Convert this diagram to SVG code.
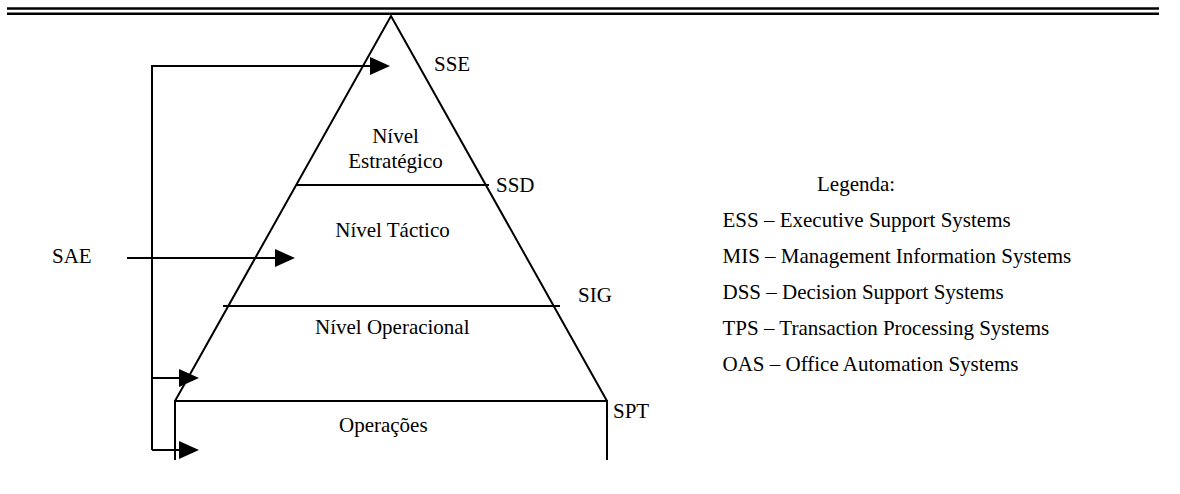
<svg xmlns="http://www.w3.org/2000/svg" width="1180" height="494" viewBox="0 0 1180 494">
  <style>
    .ln { fill: none; stroke: #000; stroke-width: 2; }
    .rule { fill: none; stroke: #000; stroke-width: 2.6; }
    .t { font-family: "Liberation Serif", "Times New Roman", serif; font-size: 21px; fill: #000; }
    .c { text-anchor: middle; }
  </style>
  <defs>
    <marker id="head" markerUnits="userSpaceOnUse" markerWidth="20" markerHeight="18" refX="10" refY="9" orient="auto">
      <path d="M0,0 L20,9 L0,18 z" fill="#000"/>
    </marker>
  </defs>

  <!-- header rules -->
  <g id="header">
    <line class="rule" x1="7" y1="8.5" x2="1159" y2="8.5"/>
    <line class="rule" x1="7" y1="13.8" x2="1159" y2="13.8"/>
  </g>

  <!-- pyramid outline and level dividers -->
  <g id="pyramid">
    <polyline class="ln" points="175,401 391,16 607,401"/>
  </g>

  <g id="nivel-estrategico">
    <text class="t c" x="395.5" y="143">Nível</text>
    <text class="t c" x="395.5" y="168">Estratégico</text>
  </g>

  <g id="nivel-tactico">
    <line class="ln" x1="296" y1="185" x2="489" y2="185"/>
    <text class="t c" x="392.5" y="237">Nível Táctico</text>
  </g>

  <g id="nivel-operacional">
    <line class="ln" x1="223" y1="306" x2="560" y2="306"/>
    <text class="t" x="315" y="334">Nível Operacional</text>
  </g>

  <g id="operacoes">
    <path class="ln" d="M175,460 V401 H607 V460"/>
    <text class="t" x="339" y="431.5">Operações</text>
  </g>

  <!-- system labels beside the pyramid -->
  <g id="sse"><text class="t" x="434" y="70.7">SSE</text></g>
  <g id="ssd"><text class="t" x="496" y="192">SSD</text></g>
  <g id="sig"><text class="t" x="578" y="301.5">SIG</text></g>
  <g id="spt"><text class="t" x="613" y="418.3">SPT</text></g>
  <g id="sae"><text class="t" x="52" y="263.3">SAE</text></g>

  <!-- connectors -->
  <g id="connectors">
    <path class="ln" d="M152,450 V66 H380" marker-end="url(#head)"/>
    <path class="ln" d="M152,378 H189" marker-end="url(#head)"/>
    <path class="ln" d="M152,450 H189" marker-end="url(#head)"/>
    <path class="ln" d="M127,258 H285" marker-end="url(#head)"/>
  </g>

  <!-- legend -->
  <g id="legenda">
    <text class="t" x="817" y="191">Legenda:</text>
    <text class="t" x="722.5" y="227">ESS – Executive Support Systems</text>
    <text class="t" x="722.5" y="263">MIS – Management Information Systems</text>
    <text class="t" x="722.5" y="299">DSS – Decision Support Systems</text>
    <text class="t" x="722.5" y="335">TPS – Transaction Processing Systems</text>
    <text class="t" x="722.5" y="371">OAS – Office Automation Systems</text>
  </g>
</svg>
